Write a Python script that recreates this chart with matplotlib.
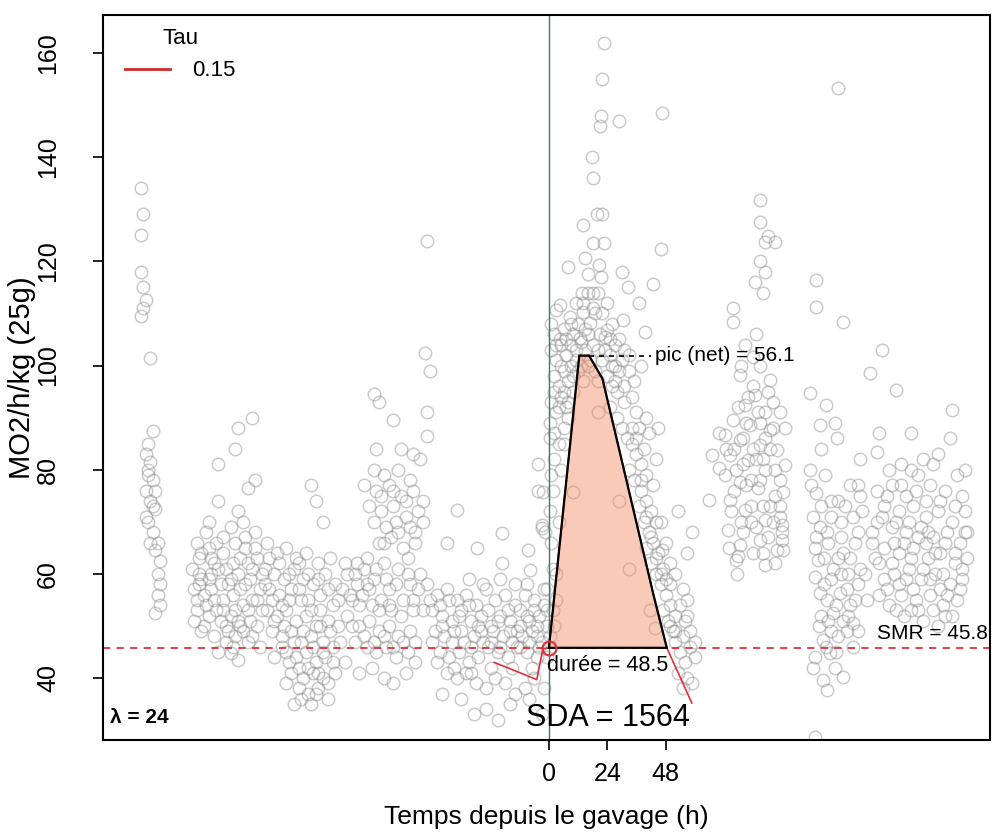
import matplotlib
matplotlib.use("Agg")
import matplotlib.pyplot as plt
from matplotlib.lines import Line2D
import numpy as np

plt.rcParams['font.family'] = ['Liberation Sans', 'DejaVu Sans']

# ---------------- data (time since feeding in h, MO2 in mg/h/kg) ----------------
seg_a = [(-168,134),(-167,129),(-168,125),(-168,118),(-167,115),(-166,112.5),(-167,111),(-168,109.5),
         (-164,101.5),(-163,87.5),(-165,85),(-166,83),(-164,81.5),(-165,80),(-163,78),(-162,76),(-164,74),
         (-162,72.5),(-165,70),(-163,68),(-164,66),(-162,64.5),(-160,62.5),(-161,60),(-160,58),(-161,56),
         (-160,54),(-162,52.5),(-166,76),(-163,73),(-165,79),(-166,71),(-161,66)]

seg_b = [(-136,81),(-129,84),(-128,88),(-122,90),(-136,74),(-128,72),(-121,78),(-124,76.5),(-141,68),
         (-145,66),(-143,64),(-139,63),(-134,64),(-130,62),(-125,65),(-120,63),(-131,69),(-126,70),(-121,68),
         (-147,61),(-144,60),(-140,59),(-136,61),(-132,58),(-128,60),(-123,59),(-119,57),(-137,66),
         (-146,57),(-142,56),(-138,55),(-134,55),(-130,56),(-126,54),(-122,55),(-145,53),(-140,52),
         (-135,51),(-131,52),(-127,50),(-123,51),(-143,49),(-138,48),(-133,47),(-129,48),(-124,47),
         (-136,45),(-131,44.8),(-128,43.5),(-132,49),(-120,50),(-118,53),(-144,58),(-139,60),(-127,57),
         (-133,61),(-124,62),(-141,54),(-129,53),
         (-144,63),(-140,65),(-135,58),(-131,59),(-127,63),(-122,61),(-118,60),(-146,51),(-142,50),
         (-137,53),(-133,50),(-128,51),(-124,53),(-120,55),(-145,55),(-139,57),(-134,53),(-130,46),
         (-126,49),(-122,48),(-119,46),(-138,62),(-143,59),(-125,67),(-129,66),(-134,67),(-140,70),
         (-121,65),(-117,58),(-125,58)]

seg_c = [(-98,77),(-96,74),(-93,70),(-116,66),(-112,64),(-108,65),(-104,63),(-100,64),(-95,62),(-90,63),
         (-117,61),(-113,60),(-109,59),(-105,61),(-101,59),(-97,58),(-92,60),(-88,58),(-115,57),(-111,56),
         (-107,55),(-103,57),(-99,55),(-94,56),(-89,54),(-116,53),(-112,52),(-108,53),(-104,51),(-100,52),
         (-96,50),(-91,51),(-87,50),(-114,49),(-110,48),(-106,49),(-102,47),(-98,48),(-93,47),(-89,46),
         (-108,45),(-104,44),(-100,45),(-96,43),(-92,44),(-106,41),(-101,40),(-97,41),(-93,40),(-103,38),
         (-99,37),(-95,38),(-91,36),(-105,35),(-98,35),(-110,46),(-113,44),(-88,41),(-86,47),(-94,53),
         (-115,63),(-111,62),(-107,60),(-103,62),(-99,60),(-95,59),(-91,57),(-87,55),(-114,55),(-110,54),
         (-106,57),(-102,55),(-98,53),(-94,50),(-90,49),(-113,51),(-109,50),(-105,47),(-101,49),(-97,46),
         (-93,45),(-89,43),(-107,43),(-103,42),(-99,42),(-95,41),(-91,39),(-102,36),(-96,37),(-108,39)]

seg_d = [(-50,124),(-51,102.5),(-49,99),(-72,94.5),(-70,93),(-64,89.5),(-50,91),(-50,86.5),(-71,84),
         (-61,84),(-56,83),(-53,82),(-72,80),(-68,79),(-62,80),(-57,78),(-76,77),(-71,76),(-66,77),(-61,75),
         (-56,76),(-52,74),(-74,73),(-69,72),(-64,73),(-59,71),(-54,72),(-72,70),(-67,69),(-62,68),(-57,69),
         (-52,70),(-70,66),(-65,67),(-60,65),(-55,66),(-84,62),(-80,60),(-76,61),(-72,59),(-68,62),(-63,58),
         (-58,60),(-54,57),(-85,57),(-81,55),(-77,56),(-73,54),(-69,55),(-65,53),(-60,55),(-56,53),(-83,52),
         (-78,50),(-74,51),(-70,49),(-66,50),(-62,48),(-57,49),(-80,47),(-75,46),(-71,45),(-67,46),(-63,44),
         (-58,45),(-84,43),(-78,41),(-73,42),(-68,40),(-64,39),(-59,41),(-55,43),(-66,57),(-75,63),(-79,58),
         (-83,60),(-79,62),(-75,58),(-71,61),(-67,59),(-62,61),(-57,58),(-53,60),(-82,56),(-78,54),(-74,57),
         (-70,53),(-66,54),(-61,52),(-56,55),(-52,53),(-81,50),(-76,48),(-72,47),(-68,48),(-64,46),(-60,47),
         (-55,47),(-69,75),(-64,76),(-59,74),(-55,68),(-63,70),(-68,66),(-58,63)]

seg_e = [(-38,72.3),(-42,66),(-29.6,65),(-19.3,67.8),(-19.3,62),(-8.6,64.6),(-4.5,76),(-4.5,81),(-3,69.4),
         (-7.8,60.7),(-14,58),(-50,58),(-46,56),(-42,57),(-38,55),(-34,56),(-30,54),(-26,57),(-22,55),
         (-18,56),(-14,54),(-10,56),(-6,55),(-2,57),(-48,53),(-44,52),(-40,51),(-36,53),(-32,51),(-28,52),
         (-24,50),(-20,52),(-16,51),(-12,53),(-8,51),(-4,52),(-1,50),(-47,49),(-43,48),(-39,49),(-35,47),
         (-31,48),(-27,47),(-23,49),(-19,48),(-15,47),(-11,48),(-7,49),(-3,47),(-45,45),(-41,44),(-37,45),
         (-33,43),(-29,44),(-25,46),(-21,45),(-17,44),(-13,46),(-9,45),(-5,44),(-42,41),(-38,40),(-34,41),
         (-30,39),(-26,38),(-22,40),(-18,39),(-14,37),(-10,38),(-6,40),(-2,38),(-44,37),(-36,36),(-26,34),
         (-16,35),(-8,36),(-3,33),(-31,33),(-21,32),(-12,50),(-6,53),(-9,58),(-2,54),(-5,48),
         (-49,55),(-45,54),(-41,55),(-37,52),(-33,54),(-29,50),(-25,53),(-21,51),(-17,53),(-13,49),(-9,52),
         (-5,50),(-1,53),(-48,47),(-44,50),(-40,47),(-36,49),(-32,46),(-28,49),(-24,47),(-20,46),(-16,49),
         (-12,46),(-8,47),(-4,46),(-46,43),(-39,42),(-32,41),(-24,42),(-15,42),(-7,42),(-1,44),(-27,58),
         (-33,59),(-20,59)]

seg_f = [(22.6,162),(22,155),(21.6,148),(28.8,147),(21.2,146),(46.5,148.5),(17.7,140),(18,136),(19.8,129),
         (22,129),(14,127),(18,123.5),(22.6,123.5),(46,122.4),(8,119),(15,120.6),(20.6,119.3),(30,118),
         (16,117.5),(21.4,117),(32.5,115),(42.8,115.6),(13.6,114),(18,114),(37,112),(4.5,111.6),(3,110.7),
         (8.6,109.3),(14,110.3),(30.5,108.7),(17,108.2),(39.5,106.4),(4.5,105),(12.8,105.3),(23.8,106.8),
         (29,105),(23,105.5),(1,103),(3,101),(5,104),(7,102),(9,100),(11,103),(13,104.5),(15,103),(18,104),
         (20,103),(22,101),(25,102),(27,100),(30,101),(33,99),(2,98),(4,96),(6,99),(8,97),(10,95),(20,97),
         (24,98),(26,96),(28,95),(31,96),(34,94),(36,91),(41,87),(45,88),(1,93),(3,91),(5,94),(7,92),
         (0.5,89),(2,87),(4,85),(6,88),(25,92),(28,90),(30,88),(32,86),(34,85),(36,83),(38,81),(33,80),
         (35,78),(38,76),(40,74),(42,72),(44,70),(37,73),(39,70),(41,68),(43,66),(45,64),(40,65),(42,62),
         (44,60),(46,58),(48,56),(50,54),(52,52),(47,53),(49,51),(51,49),(53,72),(59,68),(57,64),(50,62),
         (46.5,64.6),(55,57),(57,55),(54,54),(56,51),(58,49),(60,47),(52,47),(54,45),(56,43),(58,46),
         (60,44),(53,41),(57,40),(55,38),(59,39),(0.5,86),(1,79),(0.5,72),(-1.5,68),(1.5,61),(-1,57),
         (1.5,53),(2,82),(1.5,76),(-2.5,75.7),(-3,68.8),(1,66),(2,50),(0.5,48),(20,91),(10,75.7),(29,74),
         (33,61),(41.6,53),(43.5,49.6),(3,60),(4,70),(5,80),(6,85),(8,90),(3,55),(10,106),(12,99),(16,106),
         (19,110),(26,108),(11,112),(6,107),(27,104),(31,103),(35,97),(37,88),(39,84),(40,79),(43,77),
         (46,70),(48,66),(50,58),(52,60),(47,61),(9,104),(2,106),(14,97),(16,100),(38,100),(40,90),(44,82),
         (1,108),(3,104),(5,100),(7,105),(9,108),(11,101),(13,100),(15,107),(17,101),(19,99),(21,106),
         (23,103),(25,105),(27,97),(29,99),(31,93),(33,102),(2,95),(4,92),(6,95),(8,93),(10,98),(12,108),
         (14,112),(16,114),(18,111),(20,114),(22,110),(24,112),(26,100),(34,88),(36,86),(38,78),(40,71),
         (42,67),(44,63),(46,60),(48,59),(50,50),(52,49),(55,48),(57,52)]

seg_g = [(86.8,131.8),(86.8,127.6),(89,123.7),(93,123.7),(90,124.9),(86.8,120),(89,118),(84.8,116),
         (88,114),(75.7,111),(75.7,108.4),(80.7,104),(84,101.6),(78.6,98.2),(91,97.2),(84.8,94.3),
         (80.7,92.4),(89,91),(75.7,89.5),(82.7,88.6),(91,87.6),(97,88),(72.4,86.7),(78.6,85.7),(86.8,84.7),
         (94,83.8),(74.5,82.8),(82,81.9),(89,80),(97,80.9),(72.4,79),(78.6,77.6),(86,76.5),(93,75),
         (74.5,74.2),(80.7,72.3),(89,70.3),(96,69.4),(73.6,68.4),(78.6,65.5),(86.8,66.5),(94,64.6),
         (77,62.7),(89,61.7),(96,66.5),(70,80.3),(67,82.8),(66,74.2),(95,78),(96.5,75.8),(95,73),(96,68),
         (96.5,64.5),(78,63.5),(77.5,60),(84,96),(87,100),(92,93),(81,89),(95,91),(70,87),(76,84),(83,78),
         (88,73),(92,70),(85,69),(80,81),(91,84),(87,89),
         (73,84),(77,80),(81,77),(85,82),(89,86),(93,80),(75,72),(79,70),(83,73),(87,78),(91,73),(95,71),
         (74,65),(80,68),(84,64),(90,67),(93,62),(82,94),(86,91),(90,95),(78,92),(80,86),(84,84),(88,82),
         (92,88),(76,76),(88,64),(83,70),(79,100),(85,106)]

seg_h = [(107.4,94.7),(114,92.4),(111.5,88.6),(117.7,89),(118.5,86),(107.4,80),(113.6,79),(110,75.5),
         (116,74),(122,73),(128,75),(108.6,71),(111.5,69),(114.4,68),(120,70),(125,71),(109.5,65),(115,66),
         (121,64),(126,66),(110.7,62.7),(117,61),(123,60),(128,61),(109.5,59.4),(111.5,56.3),(114.4,55),
         (119.8,56.3),(122.6,57),(117,52.5),(121,51),(125,50.6),(122.6,49),(116,49),(112.8,47.3),
         (115.6,44.8),(125,46),(109.5,44),(108.6,42),(117.7,42),(112.8,39.6),(121,40.2),(114.4,37.7),
         (109.5,28.7),(110,116.4),(110,111.2),(121,108.4),(119,153.3),(112,84),(124,77),(119,63),
         (113,58),(118,54),(127,68),(124,54),
         (108,77),(112,73),(116,71),(120,67),(124,63),(127,58),(110,67),(113,63),(116,59),(120,60),
         (112,52),(115,51),(119,48),(123,52),(126,55),(114,46),(118,45),(111,50),(127,49),(119,74)]

seg_i = [(137,103),(132,98.6),(143,95.3),(166,91.5),(149,87),(136,87),(135,83.4),(128,82),(160,83),
         (168,79),(145,81),(152,79),(157,77),(141,77),(147,75),(163,76),(170,75),(138,73),(144,72),
         (150,73),(155,71),(160,72),(166,70),(171,72),(135,70),(141,69),(147,68),(153,69),(158,67),
         (164,68),(169,66),(172,68),(133,66),(138,65),(144,64),(150,65),(156,63),(161,64),(167,62),
         (172,63),(136,62),(142,60),(148,61),(153,59),(159,60),(165,58),(170,59),(139,57),(145,56),
         (151,55),(157,56),(162,54),(168,55),(146,52),(154,51),(160,50),(166,52),(130,60),(131,55),
         (129,72),(127,77),(165,86),(171,80),(158,81),(142,66),(162,60),(148,70),(155,66),
         (133,68),(137,71),(139,75),(143,70),(146,66),(149,63),(152,67),(156,68),(159,64),(163,66),
         (167,64),(170,61),(134,63),(138,59),(141,62),(144,58),(147,59),(150,57),(154,61),(157,59),
         (161,57),(164,56),(169,57),(136,56),(140,54),(143,53),(149,53),(152,53),(158,53),(163,52),
         (145,77),(151,76),(155,74),(161,74),(167,73),(149,80),(154,82),(140,80),(135,76),(171,68)]

# SDA curve (net response above SMR)
sda_time = [0, 12.5, 16.5, 22, 43, 48.5]
sda_mo2 = [45.8, 101.9, 101.9, 97.5, 56, 45.8]
# quantile fit (tau = 0.15) around feeding
q_time = [-22.5, -5, -2.5, 0, 12.5, 16.5, 22, 43, 48.5, 58.8]
q_mo2 = [43, 39.7, 45.6, 45.8, 101.9, 101.9, 97.5, 56, 45.8, 35.2]

smr = 45.8
peak_net = 56.1
duration = 48.5
sda_total = 1564
lam = 24
tau = 0.15
x_ticks = [0, 24, 48]
y_ticks = [40, 60, 80, 100, 120, 140, 160]

# ---------------- figure ----------------
fig = plt.figure(figsize=(9.96, 8.39), dpi=100)
ax = fig.add_axes([0.1034, 0.118, 0.8906, 0.8641])

pts = np.array(seg_a + seg_b + seg_c + seg_d + seg_e + seg_f + seg_g + seg_h + seg_i)
ax.plot(pts[:, 0], pts[:, 1], 'o', ms=9, mfc='none', mec='#8c8c8c', mew=1.1, alpha=0.45, zorder=1)

ax.axvline(0, color='#3d7a68', lw=1.0, zorder=2)
ax.axhline(smr, color='#e0303a', lw=1.3, ls=(0, (4, 3.5)), zorder=2)

ax.plot(q_time, q_mo2, color='#e0303a', lw=1.2, zorder=3)
ax.fill(sda_time, sda_mo2, facecolor='#f08a60', alpha=0.45, edgecolor='none', zorder=3)
ax.fill(sda_time, sda_mo2, facecolor='none', edgecolor='black', lw=1.6, zorder=4)
ax.plot([0], [smr], 'o', ms=10, mfc='none', mec='#e0303a', mew=1.6, zorder=5)

peak_t = sda_time[2]
ax.plot([peak_t, 42], [smr + peak_net] * 2, color='black', lw=1.2, ls=(0, (3, 3)), zorder=4)
ax.text(43.6, smr + peak_net, f"pic (net) = {peak_net}", fontsize=15, va='center', ha='left', zorder=6)
ax.text(duration / 2, 42.5, f"durée = {duration}", fontsize=15.5, va='center', ha='center', zorder=6)
ax.text(duration / 2, 32.3, f"SDA = {sda_total}", fontsize=22, va='center', ha='center', zorder=6)
ax.text(0.998, 48.6, f"SMR = {smr}", fontsize=15, va='center', ha='right',
        transform=ax.get_yaxis_transform(), zorder=6)
ax.text(0.008, 32.5, f"λ = {lam}", fontsize=15, fontweight='bold', va='center', ha='left',
        transform=ax.get_yaxis_transform(), zorder=6)

leg = ax.legend(handles=[Line2D([], [], color='#d0282f', lw=2)], labels=[f"{tau}"], title="Tau",
                loc='upper left', frameon=False, fontsize=16, title_fontsize=16,
                handlelength=2.0, handletextpad=1.0, borderaxespad=0.2, bbox_to_anchor=(0.01, 1.0))

ax.set_xlim(-183.5, 181.5)
ax.set_ylim(28.1, 167.3)
ax.set_xticks(x_ticks)
ax.set_yticks(y_ticks)
ax.tick_params(axis='both', direction='out', length=7, width=1.2, labelsize=18)
ax.tick_params(axis='x', pad=9)
ax.tick_params(axis='y', pad=24)
for lbl in ax.get_yticklabels():
    lbl.set_rotation(90)
    lbl.set_va('center')
for s in ax.spines.values():
    s.set_linewidth(1.5)

ax.set_xlabel("Temps depuis le gavage (h)", fontsize=19)
ax.set_ylabel("MO2/h/kg (25g)", fontsize=21)
ax.xaxis.set_label_coords(0.5, -0.09)
ax.yaxis.set_label_coords(-0.075, 0.5)

fig.savefig("out.png", dpi=100)
